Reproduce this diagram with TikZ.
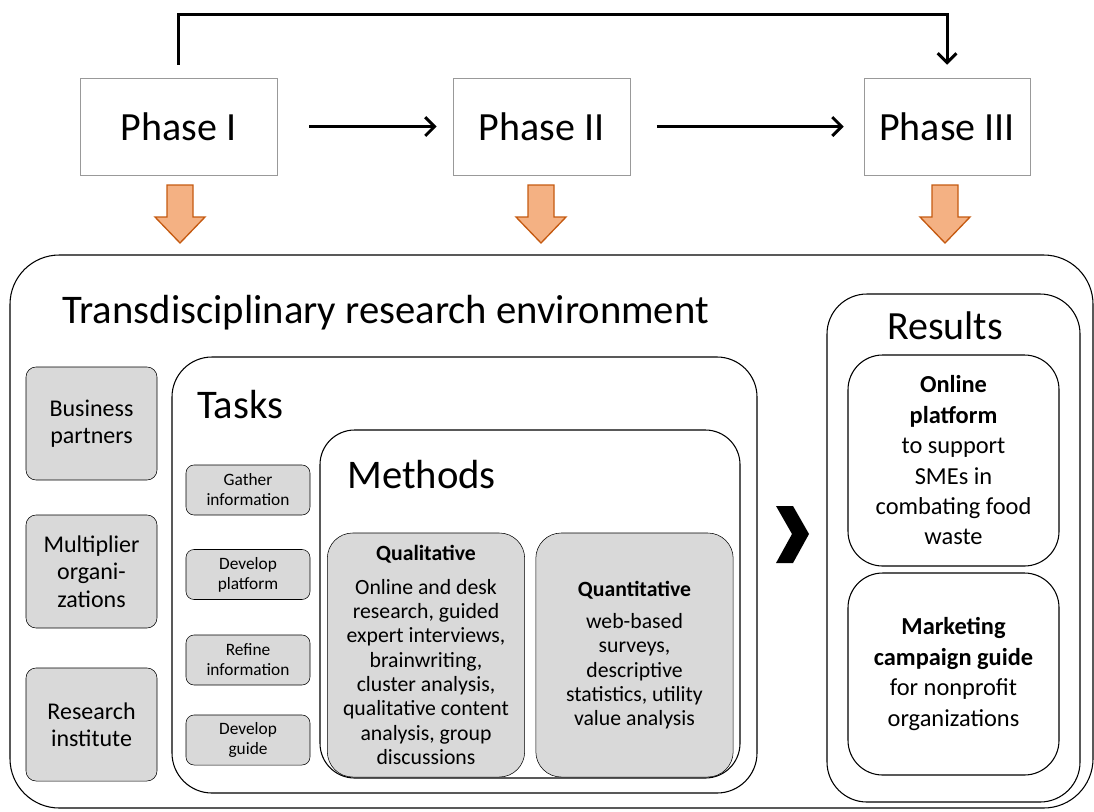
\documentclass[tikz,border=0pt]{standalone}
\usepackage{fontspec}
\setmainfont{Carlito}
\usetikzlibrary{positioning,arrows.meta}
\definecolor{boxgrey}{HTML}{D9D9D9}
\definecolor{arrowfill}{HTML}{F4B183}
\definecolor{arrowline}{HTML}{C55A11}

\begin{document}
\begin{tikzpicture}[x=0.75pt,y=-0.75pt,
  phase/.style={draw=gray!80, thin, minimum height=72.75pt, font=\fontsize{30}{36}\selectfont},
  flow/.style={line width=2.25pt, -{Straight Barb[length=7pt,width=14pt]}},
  fat/.style={fill=arrowfill, draw=arrowline, line width=1pt},
  frame/.style={draw, thick, rounded corners=#1},
  heading/.style={font=\fontsize{30.5}{36}\selectfont, anchor=west, inner sep=0pt},
  partner/.style={draw, fill=boxgrey, rounded corners=7.5pt, minimum width=98.25pt, minimum height=84.75pt, align=center, font=\fontsize{18}{20.5}\selectfont},
  task/.style={draw, fill=boxgrey, rounded corners=6pt, minimum width=93pt, minimum height=37.5pt, align=center, inner sep=1pt, font=\fontsize{13}{15}\selectfont},
  method/.style={draw, fill=boxgrey, rounded corners=19pt, minimum width=148pt, minimum height=183pt, align=center, font=\fontsize{16.3}{18.2}\selectfont},
  result/.style={draw, thick, rounded corners=26pt, minimum width=158.25pt, align=center, font=\fontsize{18.3}{22.8}\selectfont}
]
\useasboundingbox (0,0) rectangle (1094,811);

% phases
\node[phase, minimum width=147.75pt] (p1) at (178.5,126.5) {Phase I};
\node[phase, minimum width=132.75pt] (p2) at (541.5,126.5) {Phase II};
\node[phase, minimum width=124.5pt] (p3) at (947,126.5) {Phase III};

\draw[flow, shorten <=24pt, shorten >=12pt] (p1) -- (p2);
\draw[flow, shorten <=20pt, shorten >=15pt] (p2) -- (p3);
\draw[flow, shorten <=9.75pt, shorten >=9.75pt] (p1.north) -- ++(0,-63) -| (p3.north);

\foreach \x in {180,541,945}
  \draw[fat] (\x-13,185) -- (\x+13,185) -- (\x+13,217) -- (\x+25,217) -- (\x,243) -- (\x-25,217) -- (\x-13,217) -- cycle;

% research environment
\node[frame=37pt, minimum width=812.25pt, minimum height=414.75pt] (env) at (551.5,531.5) {};
\node[heading] (envtitle) at (62,313) {Transdisciplinary research environment};

\node[partner] (business) at (91.5,423.5) {Business\\partners};
\node[partner] (multiplier) at (91.5,571.5) {Multiplier\\organi-\\zations};
\node[partner] (institute) at (91.5,724.5) {Research\\institute};

% tasks
\node[frame=30pt, minimum width=438.75pt, minimum height=327pt] (tasks) at (464.5,575) {};
\node[heading] (taskstitle) at (197,405) {Tasks};
\node[task] (gather) at (248,490) {Gather\\information};
\node[task] (platform) at (248,574.5) {Develop\\platform};
\node[task] (refine) at (248,660) {Refine\\information};
\node[task] (guide) at (248,740) {Develop\\guide};

% methods
\node[frame=26pt, minimum width=315pt, minimum height=261pt] (methods) at (530,604) {};
\node[heading] (methodstitle) at (347,475) {Methods};
\node[method] (qual) at (426,655) {\textbf{Qualitative}\\[7pt]Online and desk\\research, guided\\expert interviews,\\brainwriting,\\cluster analysis,\\qualitative content\\analysis, group\\discussions};
\node[method] (quant) at (634.5,655) {\textbf{Quantitative}\\[6pt]web-based\\surveys,\\descriptive\\statistics, utility\\value analysis};

\fill (776,506) -- (793,506) -- (809,534) -- (793,563) -- (776,563) -- (792,534) -- cycle;

% results
\node[frame=30pt, minimum width=189.75pt, minimum height=381pt] (results) at (953.5,548) {};
\node[font=\fontsize{30}{36}\selectfont, inner sep=0pt] (resultstitle) at (945,326) {Results};
\node[result, minimum height=158.25pt] (online) at (953.5,460.5) {\textbf{Online}\\\textbf{platform}\\to support\\SMEs in\\combating food\\waste};
\node[result, minimum height=151.5pt] (campaign) at (953.5,674) {\textbf{Marketing}\\\textbf{campaign guide}\\for nonprofit\\organizations};
\end{tikzpicture}
\end{document}
